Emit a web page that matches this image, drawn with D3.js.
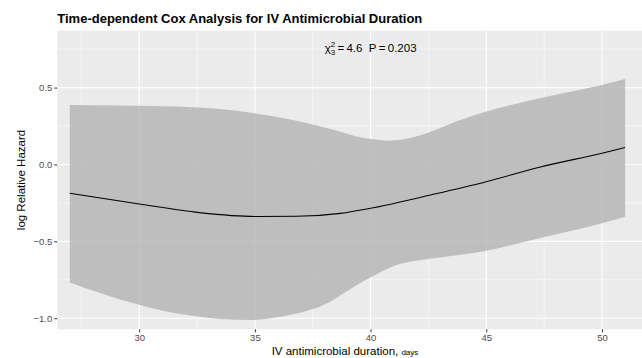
<!DOCTYPE html>
<html>
<head>
<meta charset="utf-8">
<script src="https://cdn.jsdelivr.net/npm/d3@7"></script>
<style>
  body { margin: 0; background: #fff; }
  svg { display: block; font-family: "Liberation Sans", Arial, Helvetica, sans-serif; }
</style>
</head>
<body>
<div id="canvas"></div>
<script>
// values
var lineDays = [27, 30, 32.6, 35, 36.8, 38.7, 40, 42.6, 45, 47.3, 50, 51];
var lineHazard = [-0.187, -0.257, -0.313, -0.338, -0.337, -0.318, -0.285, -0.198, -0.112, -0.018, 0.073, 0.110];

var upperDays = [27, 29, 31, 32.3, 33.5, 34.9, 36.2, 37.5, 38.7, 39.5, 40.2, 40.8, 41.8, 42.6, 43.7, 45, 46.2, 47.3, 48.7, 50, 51];
var upperHazard = [0.387, 0.383, 0.378, 0.372, 0.360, 0.335, 0.302, 0.260, 0.213, 0.178, 0.162, 0.155, 0.175, 0.213, 0.279, 0.344, 0.392, 0.431, 0.475, 0.517, 0.556];

var lowerDays = [27, 28.5, 30, 31.3, 32.6, 33.5, 34.8, 36.1, 37.2, 38.1, 38.7, 39.5, 40, 41, 42, 43, 45, 47.3, 50, 51];
var lowerHazard = [-0.767, -0.845, -0.912, -0.960, -0.990, -1.005, -1.012, -0.990, -0.955, -0.905, -0.850, -0.775, -0.735, -0.660, -0.625, -0.605, -0.561, -0.480, -0.383, -0.340];

var xTicks = [30, 35, 40, 45, 50];
var xMinor = [27.5, 32.5, 37.5, 42.5, 47.5];
var yTicks = [0.5, 0.0, -0.5, -1.0];
var yMinor = [0.75, 0.25, -0.25, -0.75];

var W = 642, H = 358;

var svg = d3.select('#canvas').append('svg')
    .attr('width', W).attr('height', H);

var x = d3.scaleLinear().domain([26.46, 51.73]).range([57.3, 642]);
var y = d3.scaleLinear().domain([-1.072, 0.870]).range([329.3, 30.7]);

// panel
svg.append('rect')
    .attr('x', x.range()[0]).attr('y', y.range()[1])
    .attr('width', x.range()[1] - x.range()[0])
    .attr('height', y.range()[0] - y.range()[1])
    .attr('fill', '#ebebeb');

var grid = svg.append('g');
grid.selectAll('.xminor').data(xMinor).enter().append('line')
    .attr('x1', d => x(d)).attr('x2', d => x(d))
    .attr('y1', y.range()[0]).attr('y2', y.range()[1])
    .attr('stroke', '#fff').attr('stroke-width', 0.5);
grid.selectAll('.yminor').data(yMinor).enter().append('line')
    .attr('y1', d => y(d)).attr('y2', d => y(d))
    .attr('x1', x.range()[0]).attr('x2', x.range()[1])
    .attr('stroke', '#fff').attr('stroke-width', 0.5);
grid.selectAll('.xmajor').data(xTicks).enter().append('line')
    .attr('x1', d => x(d)).attr('x2', d => x(d))
    .attr('y1', y.range()[0]).attr('y2', y.range()[1])
    .attr('stroke', '#fff').attr('stroke-width', 1.1);
grid.selectAll('.ymajor').data(yTicks).enter().append('line')
    .attr('y1', d => y(d)).attr('y2', d => y(d))
    .attr('x1', x.range()[0]).attr('x2', x.range()[1])
    .attr('stroke', '#fff').attr('stroke-width', 1.1);

// confidence band
var upper = upperDays.map((d, i) => [d, upperHazard[i]]);
var lower = lowerDays.map((d, i) => [d, lowerHazard[i]]);
var lineUp = d3.line().x(d => x(d[0])).y(d => y(d[1])).curve(d3.curveMonotoneX);
var bandPath = lineUp(upper) + 'L' + lineUp(lower.slice().reverse()).slice(1) + 'Z';
svg.append('path')
    .attr('d', bandPath)
    .attr('fill', '#b3b3b3').attr('fill-opacity', 0.8);

// estimate
svg.append('path')
    .datum(lineDays.map((d, i) => [d, lineHazard[i]]))
    .attr('d', lineUp)
    .attr('fill', 'none').attr('stroke', '#000').attr('stroke-width', 1.1);

// axes
var xAxis = svg.append('g')
    .attr('transform', 'translate(0,' + y.range()[0] + ')')
    .call(d3.axisBottom(x).tickValues(xTicks).tickSize(3).tickPadding(2).tickFormat(d3.format('d')));
var yAxis = svg.append('g')
    .attr('transform', 'translate(' + x.range()[0] + ',0)')
    .call(d3.axisLeft(y).tickValues(yTicks).tickSize(3).tickPadding(2).tickFormat(d3.format('.1f')));
[xAxis, yAxis].forEach(function(a) {
    a.select('.domain').remove();
    a.selectAll('.tick line').attr('stroke', '#333');
    a.selectAll('.tick text').attr('fill', '#4d4d4d')
        .style('font-size', '9.5px').style('font-family', '"Liberation Sans", Arial, sans-serif');
});

// title
svg.append('text')
    .attr('x', 57.3).attr('y', 23)
    .style('font-size', '13px').style('font-weight', 'bold')
    .text('Time-dependent Cox Analysis for IV Antimicrobial Duration');

// chi-square annotation
var ann = svg.append('text')
    .attr('x', x(40)).attr('y', 51.7)
    .attr('text-anchor', 'middle')
    .style('font-size', '11.5px').style('white-space', 'pre');
ann.append('tspan').text('\u03c7');
ann.append('tspan').attr('dy', 3).style('font-size', '8px').text('3');
ann.append('tspan').attr('dx', -4.5).attr('dy', -8).style('font-size', '8px').text('2');
ann.append('tspan').attr('dy', 5).text('\u2009=\u20094.6  P\u2009=\u20090.203');

// axis titles
svg.append('text')
    .attr('transform', 'translate(25,' + ((y.range()[0] + y.range()[1]) / 2) + ') rotate(-90)')
    .attr('text-anchor', 'middle')
    .style('font-size', '11.5px')
    .text('log Relative Hazard');

var xt = svg.append('text')
    .attr('x', 345).attr('y', 355)
    .attr('text-anchor', 'middle')
    .style('font-size', '11.5px');
xt.append('tspan').text('IV antimicrobial duration, ');
xt.append('tspan').style('font-size', '8px').text('days');
</script>
</body>
</html>
